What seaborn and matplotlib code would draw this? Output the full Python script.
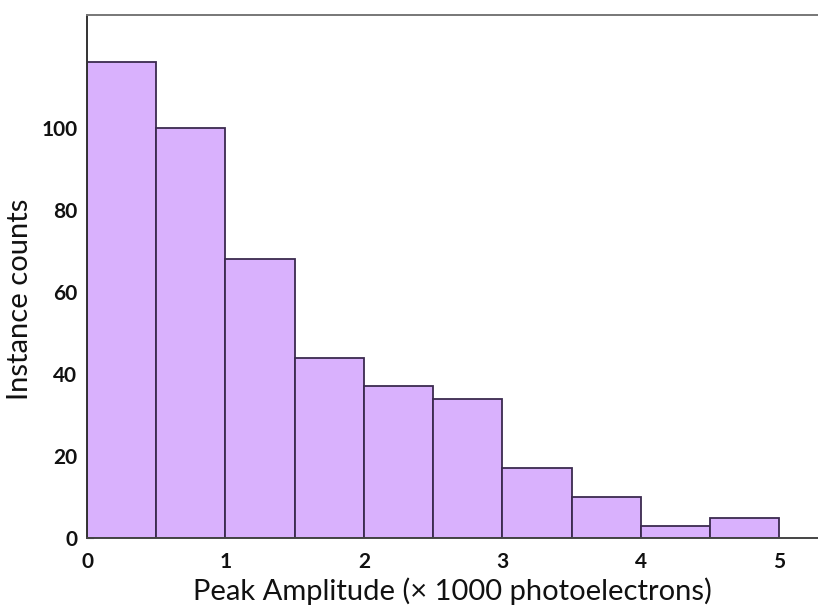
import matplotlib
matplotlib.use("Agg")
import matplotlib.pyplot as plt
import seaborn as sns
import numpy as np
import pandas as pd

# Histogram of peak amplitudes, 0.5 (x1000 photoelectron) bins
bin_edges = [0.0, 0.5, 1.0, 1.5, 2.0, 2.5, 3.0, 3.5, 4.0, 4.5, 5.0]
counts = [116, 100, 68, 44, 37, 34, 17, 10, 3, 5]
y_ticks = [0, 20, 40, 60, 80, 100]
x_ticks = [0, 1, 2, 3, 4, 5]

centers = [(a + b) / 2 for a, b in zip(bin_edges[:-1], bin_edges[1:])]
df = pd.DataFrame({"amplitude": centers, "count": counts})

sns.set_theme(style="white")
plt.rcParams["font.family"] = ["Lato", "DejaVu Sans"]

fig = plt.figure(figsize=(8.18, 6.10), dpi=100)
ax = fig.add_axes([0.1064, 0.118, 0.8936, 0.857])

sns.histplot(data=df, x="amplitude", weights="count", bins=bin_edges,
             color="#d9b1fd", alpha=1.0, edgecolor="#3b2a4f", linewidth=1.3,
             ax=ax)

ax.set_xlim(0, 5.28)
ax.set_ylim(0, 127.5)
ax.set_xticks(x_ticks)
ax.set_yticks(y_ticks)
ax.set_xticklabels([str(v) for v in x_ticks], fontweight="bold", fontsize=15,
                   color="#111111")
ax.set_yticklabels([str(v) for v in y_ticks], fontweight="bold", fontsize=15,
                   color="#111111")
ax.tick_params(axis="y", direction="in", length=5, width=1.5, color="#222222",
               pad=7, left=True)
ax.tick_params(axis="x", length=0, pad=10)

for side in ["left", "top", "bottom"]:
    ax.spines[side].set_visible(True)
    ax.spines[side].set_linewidth(1.4)
ax.spines["left"].set_color("#333333")
ax.spines["bottom"].set_color("#444444")
ax.spines["top"].set_color("#777777")
ax.spines["right"].set_visible(False)

ax.set_xlabel("Peak Amplitude (× 1000 photoelectrons)", fontsize=21, color="#111111")
ax.set_ylabel("Instance counts", fontsize=21, color="#111111")
ax.xaxis.set_label_coords(0.5, -0.075)
ax.yaxis.set_label_coords(-0.074, 0.457)

fig.savefig("out.png", dpi=100)
